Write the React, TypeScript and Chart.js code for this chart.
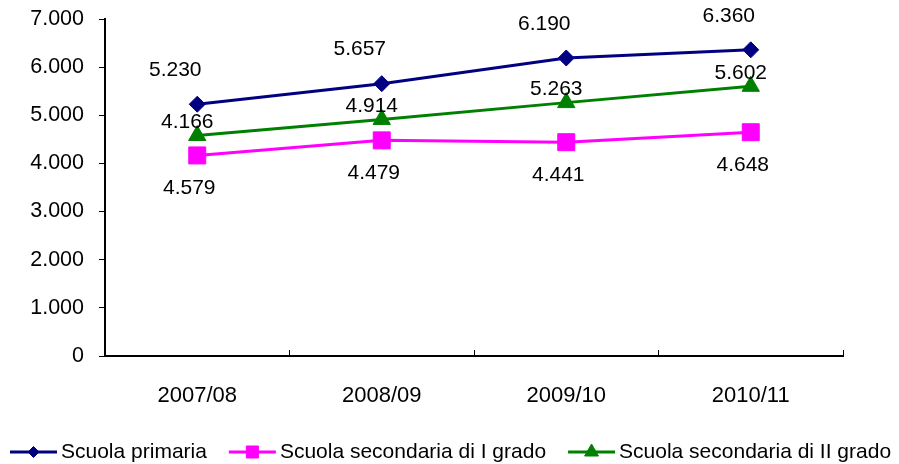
import React, { useEffect, useRef } from "react";
import { Chart, registerables } from "chart.js";
import { drawPoint } from "chart.js/helpers";

Chart.register(...registerables);

const categories = ["2007/08", "2008/09", "2009/10", "2010/11"];
const seriesNames = [
  "Scuola primaria",
  "Scuola secondaria di I grado",
  "Scuola secondaria di II grado",
];
const primaria = [5230, 5657, 6190, 6360];
const secondariaI = [4166, 4479, 4441, 4648];
const secondariaII = [4579, 4914, 5263, 5602];
// data label texts as printed on the reference
const primariaLabels = ["5.230", "5.657", "6.190", "6.360"];
const secondariaILabels = ["4.579", "4.479", "4.441", "4.648"];
const secondariaIILabels = ["4.166", "4.914", "5.263", "5.602"];
const yMin = 0;
const yMax = 7000;
const yStep = 1000;

const FONT = "'Liberation Sans', Arial, Helvetica, sans-serif";
const W = 899;
const H = 464;
const PLOT_TOP = 19;
const PLOT_BOTTOM = 356;

const fmt = (v: number) =>
  String(Math.round(v)).replace(/\B(?=(\d{3})+(?!\d))/g, ".");

const styles = [
  { color: "#000080", pointStyle: "rectRot", radius: 8, legendRadius: 5.5, dx: -22, dy: -34, labels: primariaLabels },
  { color: "#FF00FF", pointStyle: "rect", radius: 12, legendRadius: 8.5, dx: -8, dy: 33, labels: secondariaILabels },
  { color: "#008000", pointStyle: "triangle", radius: 10, legendRadius: 8, dx: -10, dy: -13, labels: secondariaIILabels },
];

const dataLabelPlugin = {
  id: "dataLabels",
  afterDatasetsDraw(chart: any) {
    const ctx = chart.ctx;
    ctx.save();
    ctx.font = `21px ${FONT}`;
    ctx.fillStyle = "#000";
    ctx.textAlign = "center";
    ctx.textBaseline = "middle";
    chart.data.datasets.forEach((ds: any, i: number) => {
      const meta = chart.getDatasetMeta(i);
      const st = styles[i];
      meta.data.forEach((el: any, j: number) => {
        ctx.fillText(st.labels[j], el.x + st.dx, el.y + st.dy);
      });
    });
    ctx.restore();
  },
};

const legendPlugin = {
  id: "excelLegend",
  afterDraw(chart: any) {
    const ctx = chart.ctx;
    ctx.save();
    ctx.font = `21px ${FONT}`;
    ctx.textBaseline = "middle";
    ctx.textAlign = "left";
    const y = 452;
    let x = 10;
    chart.data.datasets.forEach((ds: any, i: number) => {
      const st = styles[i];
      ctx.strokeStyle = st.color;
      ctx.lineWidth = 3;
      ctx.beginPath();
      ctx.moveTo(x, y);
      ctx.lineTo(x + 47, y);
      ctx.stroke();
      ctx.fillStyle = st.color;
      ctx.strokeStyle = st.color;
      ctx.lineWidth = 1;
      drawPoint(
        ctx,
        { pointStyle: st.pointStyle, radius: st.legendRadius, rotation: 0, borderWidth: 1 } as any,
        x + 23.5,
        y
      );
      ctx.fillStyle = "#000";
      ctx.fillText(ds.label, x + 51, y);
      const tw = ctx.measureText(ds.label).width;
      x = x + 51 + tw + 22;
    });
    ctx.restore();
  },
};

export default function App() {
  const ref = useRef<HTMLCanvasElement | null>(null);
  useEffect(() => {
    if (!ref.current) return;
    const values = [primaria, secondariaI, secondariaII];
    const chart = new Chart(ref.current, {
      type: "line",
      data: {
        labels: categories,
        datasets: values.map((v, i) => ({
          label: seriesNames[i],
          data: v,
          borderColor: styles[i].color,
          backgroundColor: styles[i].color,
          pointBackgroundColor: styles[i].color,
          pointBorderColor: styles[i].color,
          pointStyle: styles[i].pointStyle as any,
          pointRadius: styles[i].radius,
          pointBorderWidth: 1,
          borderWidth: 3,
          tension: 0,
          fill: false,
          clip: false,
        })),
      },
      options: {
        responsive: false,
        animation: false,
        devicePixelRatio: 1,
        layout: { autoPadding: false, padding: { top: PLOT_TOP, right: 56, bottom: 0, left: 0 } },
        plugins: {
          legend: { display: false },
          tooltip: { enabled: false },
          title: { display: false },
        },
        scales: {
          x: {
            type: "category",
            offset: true,
            grid: {
              offset: true,
              drawOnChartArea: false,
              drawTicks: true,
              tickLength: -6,
              color: "#000",
              lineWidth: 1,
            },
            border: { display: true, color: "#000", width: 2 },
            ticks: {
              color: "#000",
              font: { family: FONT, size: 22 },
              padding: 33,
              maxRotation: 0,
              autoSkip: false,
            },
            afterFit: (scale: any) => {
              scale.height = H - PLOT_BOTTOM;
              scale.paddingLeft = 0;
              scale.paddingRight = 0;
            },
          },
          y: {
            min: yMin,
            max: yMax,
            grid: {
              drawOnChartArea: false,
              drawTicks: true,
              tickLength: 6,
              color: "#000",
              lineWidth: 1,
            },
            border: { display: true, color: "#000", width: 2 },
            ticks: {
              stepSize: yStep,
              color: "#000",
              font: { family: FONT, size: 21.5 },
              padding: 15,
              callback: (v: any) => fmt(Number(v)),
            },
            afterFit: (scale: any) => {
              scale.width = 105;
              scale.paddingTop = 0;
              scale.paddingBottom = 0;
            },
          },
        },
      },
      plugins: [dataLabelPlugin, legendPlugin],
    });
    return () => chart.destroy();
  }, []);
  return (
    <canvas
      ref={ref}
      width={W}
      height={H}
      style={{ position: "absolute", left: 0, top: 0, width: W, height: H, background: "#fff" }}
    />
  );
}
